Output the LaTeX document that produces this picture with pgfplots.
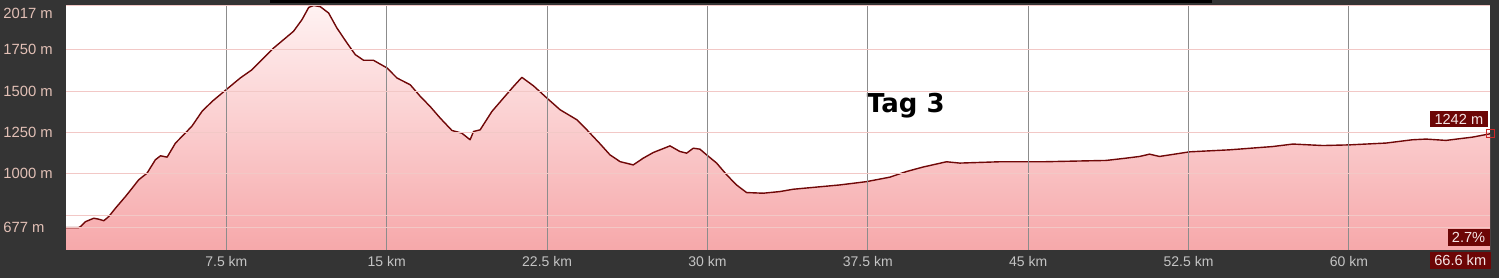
\documentclass[border=0pt]{standalone}
\usepackage{pgfplots}
\pgfplotsset{compat=1.18}
\usepackage{pgfplotstable}
\usepackage{fontspec}
\setmainfont{Liberation Sans}
\newfontfamily\tagfont{DejaVu Sans}
\definecolor{bgc}{RGB}{52,52,52}
\definecolor{ylab}{RGB}{226,192,182}
\definecolor{xlab}{RGB}{196,196,196}
\definecolor{hgrid}{RGB}{242,200,198}
\definecolor{vgrid}{RGB}{140,140,140}
\definecolor{prof}{RGB}{112,8,8}
\definecolor{boxc}{RGB}{108,6,6}
\definecolor{filltop}{RGB}{255,242,242}
\definecolor{fillbot}{RGB}{246,168,170}
\pgfplotstableread{
km elev
0.00 675
0.58 675
0.68 681
0.91 711
1.30 732
1.53 726
1.77 717
2.00 742
2.31 792
2.78 863
3.09 913
3.40 964
3.79 1004
4.18 1085
4.42 1109
4.73 1101
5.12 1186
5.58 1246
5.90 1290
6.36 1377
6.83 1437
7.45 1504
8.15 1579
8.70 1629
9.24 1700
9.71 1760
10.18 1811
10.64 1861
11.04 1932
11.35 2005
11.58 2017
11.89 2010
12.28 1972
12.67 1881
13.14 1791
13.53 1720
13.92 1686
14.38 1686
15.01 1640
15.48 1579
16.10 1538
16.57 1468
17.03 1407
17.50 1337
18.05 1262
18.51 1246
18.90 1206
19.06 1256
19.37 1266
19.92 1377
20.46 1458
20.93 1528
21.32 1583
21.86 1532
22.49 1458
23.11 1387
23.89 1327
24.36 1266
24.98 1181
25.44 1115
25.91 1074
26.53 1054
27.00 1095
27.47 1129
28.25 1169
28.71 1135
29.03 1125
29.34 1155
29.65 1149
29.96 1115
30.43 1065
30.90 994
31.36 933
31.83 887
32.61 883
33.39 893
34.01 907
35.10 920
36.19 933
37.44 953
38.53 980
39.31 1014
40.08 1041
41.18 1073
41.80 1065
43.67 1073
45.69 1073
48.65 1081
49.59 1095
50.21 1105
50.68 1119
51.14 1105
52.55 1133
54.41 1145
56.44 1165
57.38 1180
58.78 1171
60.02 1175
61.74 1186
62.98 1206
63.61 1210
64.54 1202
65.79 1222
66.60 1242
}\prof
\begin{document}
\begin{tikzpicture}
\fill[bgc] (0,0) rectangle (749.5pt,139pt);
\fill[black] (135pt,139pt) rectangle (606pt,137.6pt);
\useasboundingbox (0,0) rectangle (749.5pt,139pt);
\begin{axis}[
  at={(33pt,14pt)}, anchor=south west,
  scale only axis, width=712pt, height=122.5pt,
  xmin=0, xmax=66.6, ymin=540, ymax=2020,
  clip=false,
  axis background/.style={fill=white},
  axis line style={draw=none},
  axis on top,
  major tick length=0pt,
  xtick={7.5,15,22.5,30,37.5,45,52.5,60},
  xticklabels={7.5 km,15 km,22.5 km,30 km,37.5 km,45 km,52.5 km,60 km},
  ytick={677,750,1000,1250,1500,1750},
  yticklabels={677 m,,1000 m,1250 m,1500 m,1750 m},
  extra y ticks={2017},
  extra y tick labels={2017 m},
  extra y tick style={yticklabel style={yshift=-3.75pt}},
  xmajorgrids, ymajorgrids,
  x grid style={draw=vgrid, line width=0.5pt},
  y grid style={draw=hgrid, line width=0.5pt},
  xticklabel style={font=\fontsize{7}{8}\selectfont},
  yticklabel style={font=\fontsize{7.4}{8}\selectfont},
  yticklabel style={color=ylab, anchor=west, inner sep=0pt, xshift=-31.5pt},
  xticklabel style={color=xlab, anchor=center, inner sep=0pt, yshift=-6pt},
]
\addplot[draw=none, top color=filltop, bottom color=fillbot] table[x=km,y=elev] {\prof} -- (axis cs:66.6,540) -- (axis cs:0,540) -- cycle;
\addplot[prof, line width=0.7pt, line join=round] table[x=km,y=elev] {\prof};
\addplot[only marks, mark=square, mark size=2pt, draw={rgb,255:red,205;green,40;blue,40}, line width=0.5pt] coordinates {(66.6,1242)};
\node[anchor=base west, inner sep=0pt, font=\tagfont\bfseries\fontsize{13}{14}\selectfont] at (axis cs:37.44,1369) {Tag 3};
\node[anchor=south east, fill=boxc, text={rgb,255:red,245;green,230;blue,230}, inner xsep=2.2pt, inner ysep=1.5pt, font=\fontsize{7.3}{8}\selectfont] at ([xshift=-1pt,yshift=3pt]axis cs:66.6,1242) {1242 m};
\node[anchor=south east, fill=boxc, text={rgb,255:red,245;green,230;blue,230}, inner xsep=2.2pt, inner ysep=1.5pt, font=\fontsize{7.3}{8}\selectfont] at ([yshift=2pt]rel axis cs:1,0) {2.7\%};
\node[anchor=north east, fill=boxc, text={rgb,255:red,245;green,230;blue,230}, inner xsep=2.2pt, inner ysep=1.5pt, font=\fontsize{7.3}{8}\selectfont] at ([xshift=0.5pt,yshift=-1pt]rel axis cs:1,0) {66.6 km};
\end{axis}
\end{tikzpicture}
\end{document}
